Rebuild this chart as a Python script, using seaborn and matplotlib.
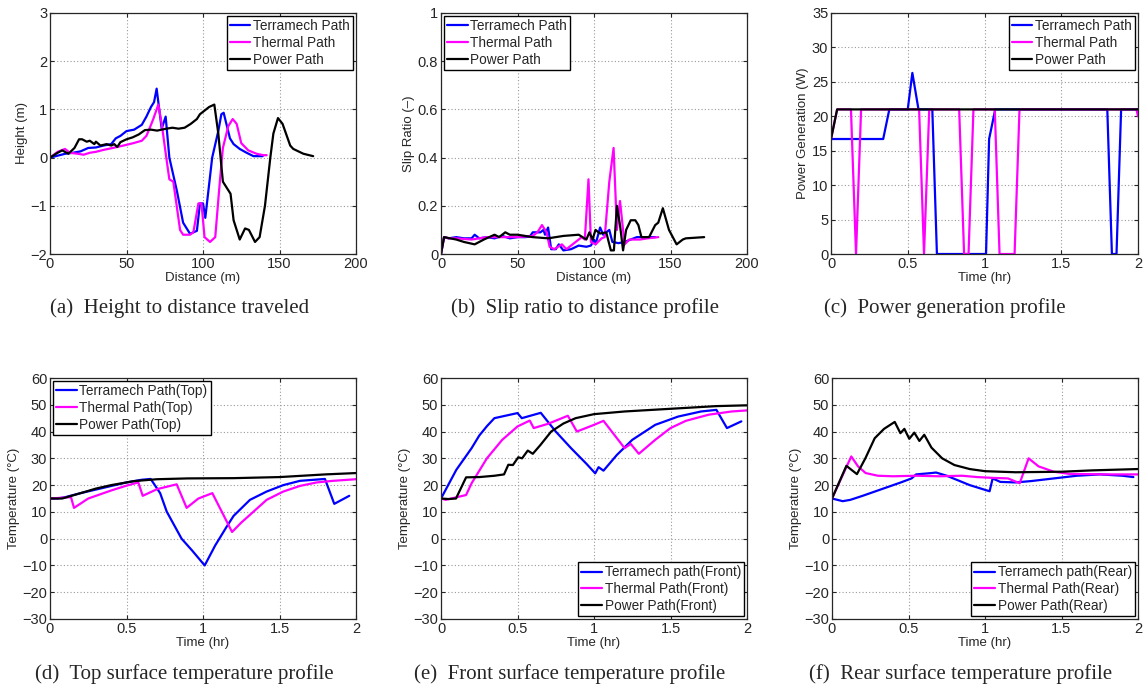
import matplotlib
matplotlib.use('Agg')
import pandas as pd
import seaborn as sns
import matplotlib.pyplot as plt

# ---------------- datos ----------------
# (a) altura vs distancia
ta_x = [0, 5, 10, 15, 20, 25, 30, 35, 40, 43, 46, 50, 55, 60, 63, 66, 68, 69.7, 71, 73, 75.6, 78, 83, 87, 91.5, 96, 98, 100, 101.5, 106, 110, 112, 113.5, 117.6, 120, 124, 128.5, 133, 139]
ta_y = [0, 0.04, 0.08, 0.1, 0.13, 0.2, 0.21, 0.25, 0.28, 0.4, 0.45, 0.55, 0.58, 0.68, 0.85, 1.05, 1.15, 1.43, 1.1, 0.6, 0.85, 0.0, -0.7, -1.35, -1.58, -1.52, -0.95, -0.95, -1.25, 0.0, 0.55, 0.9, 0.93, 0.4, 0.28, 0.18, 0.1, 0.03, 0.03]
ha_x = [0, 5, 9.8, 13, 18, 22, 26, 30, 35, 41, 48, 54.5, 60, 63, 65, 67.5, 70.8, 73, 76, 78, 80.6, 85, 87, 91.5, 93.7, 97, 99, 101, 104.6, 108, 111, 113, 116.5, 119.4, 122, 125, 129.6, 135, 139.4, 141.6]
ha_y = [0, 0.12, 0.18, 0.1, 0.08, 0.06, 0.1, 0.12, 0.16, 0.2, 0.25, 0.3, 0.35, 0.45, 0.6, 0.8, 1.1, 0.7, 0.0, -0.45, -0.5, -1.5, -1.6, -1.6, -1.55, -0.95, -0.95, -1.65, -1.75, -1.65, -0.5, 0.2, 0.65, 0.8, 0.7, 0.3, 0.15, 0.08, 0.05, 0.05]
pa_x = [0, 5, 8, 12, 16, 19, 21, 24, 26, 29, 30, 33, 37, 40, 42, 44, 46, 50, 54, 58, 62, 66, 70, 76, 80, 84, 88, 92, 96, 98, 100, 104, 107.4, 110, 113, 116, 118, 120, 124, 127.5, 130, 134, 137, 140.5, 144, 146, 149, 152, 157, 159, 165.6, 172]
pa_y = [0, 0.1, 0.15, 0.08, 0.2, 0.38, 0.38, 0.33, 0.35, 0.28, 0.33, 0.25, 0.28, 0.25, 0.28, 0.22, 0.32, 0.38, 0.42, 0.48, 0.57, 0.58, 0.56, 0.6, 0.62, 0.6, 0.62, 0.7, 0.8, 0.9, 0.95, 1.05, 1.1, 0.5, -0.5, -0.65, -0.75, -1.3, -1.7, -1.47, -1.5, -1.75, -1.65, -1.0, 0.0, 0.5, 0.82, 0.7, 0.25, 0.18, 0.08, 0.03]

# (b) slip ratio vs distancia
tb_x = [0, 2, 5, 10, 15, 20, 22, 25, 30, 35, 40, 45, 50, 55, 58, 60, 63, 65, 67, 68, 70, 72, 75, 77, 80, 85, 90, 95, 98, 100, 101, 104, 106, 110, 112, 116, 120, 128, 135, 140]
tb_y = [0, 0.07, 0.065, 0.07, 0.065, 0.065, 0.08, 0.065, 0.07, 0.065, 0.075, 0.065, 0.07, 0.07, 0.072, 0.09, 0.09, 0.09, 0.1, 0.08, 0.11, 0.02, 0.02, 0.04, 0.015, 0.02, 0.035, 0.03, 0.035, 0.06, 0.04, 0.11, 0.08, 0.1, 0.05, 0.045, 0.05, 0.07, 0.07, 0.07]
hb_x = [0, 2, 5, 10, 20, 30, 40, 50, 60, 63, 66, 69, 71, 74, 79, 82, 88, 92, 94, 96.4, 98, 101, 105, 107, 110, 112.8, 115, 117, 120, 123, 130, 135, 142]
hb_y = [0, 0.07, 0.065, 0.065, 0.06, 0.07, 0.07, 0.07, 0.075, 0.09, 0.12, 0.09, 0.03, 0.02, 0.04, 0.02, 0.05, 0.07, 0.06, 0.31, 0.05, 0.04, 0.065, 0.07, 0.3, 0.44, 0.1, 0.22, 0.04, 0.06, 0.06, 0.065, 0.07]
pb_x = [0, 2, 10, 15, 22, 28, 35, 38, 42, 45, 50, 60, 70, 80, 90, 95, 97, 99, 101, 104, 108, 111, 113, 115, 117, 119, 121, 124, 127, 129, 131, 136, 140, 142, 145, 149, 154, 158, 160, 172]
pb_y = [0, 0.07, 0.06, 0.05, 0.04, 0.06, 0.08, 0.07, 0.09, 0.08, 0.08, 0.07, 0.065, 0.075, 0.08, 0.06, 0.09, 0.06, 0.1, 0.085, 0.09, 0.015, 0.015, 0.2, 0.12, 0.015, 0.1, 0.14, 0.14, 0.12, 0.07, 0.07, 0.12, 0.13, 0.19, 0.1, 0.04, 0.06, 0.065, 0.07]

# (c) generacion de potencia vs tiempo
tc_x = [0, 0.34, 0.38, 0.5, 0.53, 0.57, 0.66, 0.69, 1.01, 1.03, 1.07, 1.8, 1.83, 1.86, 1.89, 2.0]
tc_y = [16.7, 16.7, 21, 21, 26.3, 21, 21, 0, 0, 16.7, 21, 21, 0, 0, 21, 21]
hc_x = [0, 0.04, 0.13, 0.163, 0.196, 0.574, 0.606, 0.64, 0.835, 0.867, 0.896, 0.928, 1.067, 1.098, 1.196, 1.228, 1.99, 2.0]
hc_y = [16.7, 21, 21, 0, 21, 21, 0, 21, 21, 0, 0, 21, 21, 0, 0, 21, 21, 20]
pc_x = [0, 0.04, 2.0]
pc_y = [16.7, 21, 21]

# (d) temperatura superior
td_x = [0, 0.05, 0.1, 0.2, 0.35, 0.5, 0.6, 0.658, 0.72, 0.763, 0.86, 0.93, 1.011, 1.08, 1.155, 1.2, 1.307, 1.416, 1.525, 1.634, 1.797, 1.858, 1.956]
td_y = [15, 15, 15.5, 17, 19, 21, 22, 22.3, 17, 10.1, 0, -4.5, -10, -2.5, 4.5, 8.5, 14.5, 17.6, 20, 21.6, 22.3, 13, 16]
hd_x = [0, 0.137, 0.157, 0.25, 0.4, 0.5, 0.577, 0.606, 0.7, 0.828, 0.893, 0.97, 1.061, 1.19, 1.25, 1.307, 1.416, 1.525, 1.634, 1.743, 1.85, 2.0]
hd_y = [15, 15.5, 11.5, 15, 18, 19.8, 21, 16, 18.5, 20.3, 11.5, 15, 17, 2.5, 6, 8.9, 14.5, 17.6, 19.7, 21, 21.6, 22.2]
pd_x = [0, 0.08, 0.2, 0.3, 0.4, 0.55, 0.7, 0.9, 1.2, 1.5, 1.8, 2.0]
pd_y = [15, 15, 17, 18.7, 20, 21.5, 22.2, 22.5, 22.6, 23, 24, 24.5]

# (e) temperatura frontal
te_x = [0, 0.1, 0.2, 0.25, 0.3, 0.349, 0.5, 0.528, 0.652, 0.75, 0.85, 0.95, 1.008, 1.03, 1.062, 1.15, 1.25, 1.4, 1.55, 1.7, 1.8, 1.869, 1.963]
te_y = [15, 25.7, 33.8, 38.5, 42, 45, 46.9, 45, 47, 40, 33.8, 28, 24.4, 26.7, 25.4, 31.3, 36.9, 42.5, 45.6, 47.5, 48.1, 41.3, 43.8]
he_x = [0, 0.03, 0.164, 0.2, 0.3, 0.4, 0.5, 0.58, 0.606, 0.7, 0.829, 0.888, 1.0, 1.062, 1.2, 1.24, 1.293, 1.4, 1.5, 1.6, 1.75, 1.9, 2.0]
he_y = [15, 14.5, 16.3, 20.7, 30, 36.9, 41.9, 44.1, 41.3, 42.9, 45.9, 40, 42.5, 44, 33.8, 35.4, 31.7, 36.9, 41.3, 44, 46.3, 47.5, 47.9]
pe_x = [0, 0.05, 0.098, 0.164, 0.25, 0.35, 0.412, 0.44, 0.47, 0.505, 0.53, 0.567, 0.6, 0.65, 0.72, 0.8, 0.88, 1.0, 1.2, 1.5, 1.8, 2.0]
pe_y = [15, 14.8, 15, 22.9, 23, 23.5, 24, 27.6, 27.5, 30.4, 30, 32.9, 31.7, 35, 40, 43, 45, 46.5, 47.5, 48.5, 49.5, 49.8]

# (f) temperatura trasera
tf_x = [0, 0.07, 0.12, 0.2, 0.35, 0.45, 0.52, 0.55, 0.65, 0.68, 0.75, 0.9, 1.03, 1.05, 1.1, 1.2, 1.3, 1.45, 1.6, 1.75, 1.9, 1.97]
tf_y = [15, 14, 14.5, 16, 19, 21, 22.5, 24, 24.5, 24.7, 23.5, 20, 17.7, 22.5, 21.2, 21, 21.5, 22.5, 23.5, 24, 23.5, 23]
hf_x = [0, 0.08, 0.126, 0.17, 0.22, 0.3, 0.4, 0.55, 0.7, 0.85, 0.95, 1.05, 1.15, 1.227, 1.285, 1.35, 1.45, 1.55, 1.8, 2.0]
hf_y = [15, 25, 30.7, 27, 24.5, 23.5, 23.3, 23.5, 23.3, 23.5, 23, 22.7, 22.5, 20.7, 30, 27, 25, 24.2, 24, 24]
pf_x = [0, 0.094, 0.163, 0.218, 0.279, 0.34, 0.41, 0.447, 0.473, 0.505, 0.538, 0.571, 0.603, 0.65, 0.72, 0.8, 0.9, 1.0, 1.2, 1.5, 1.7, 2.0]
pf_y = [15, 27.2, 24.1, 30, 37.5, 41, 43.6, 39.4, 41, 37.3, 39.6, 36.5, 38.8, 34, 30, 27.5, 26, 25.2, 24.8, 25, 25.5, 26]

captions = ['(a)  Height to distance traveled', '(b)  Slip ratio to distance profile',
            '(c)  Power generation profile', '(d)  Top surface temperature profile',
            '(e)  Front surface temperature profile', '(f)  Rear surface temperature profile']

# ---------------- estilo ----------------
sns.set_style('white')
plt.rcParams['font.family'] = ['Liberation Sans', 'DejaVu Sans']
plt.rcParams['font.size'] = 9.5

W, H = 1146, 688
fig = plt.figure(figsize=(W / 100, H / 100), dpi=100)

colores = ['#0000ff', '#ff00ff', '#000000']


def ejes(left, top, right, bottom):
    return fig.add_axes([left / W, (H - bottom) / H, (right - left) / W, (bottom - top) / H])


def dibujar(ax, series, labels, xlim, ylim, xticks, yticks, xlabel, ylabel, loc):
    for (x, y), lab, c in zip(series, labels, colores):
        df = pd.DataFrame({'x': x, 'y': y})
        sns.lineplot(data=df, x='x', y='y', ax=ax, color=c, linewidth=1.6,
                     label=lab, sort=False, estimator=None)
    ax.set_xlim(xlim)
    ax.set_ylim(ylim)
    ax.set_xticks(xticks)
    ax.set_yticks(yticks)
    ax.set_xticklabels([('%g' % t).replace('-', '\u2212') for t in xticks])
    ax.set_yticklabels([('%g' % t).replace('-', '\u2212') for t in yticks])
    ax.grid(True, linestyle=(0, (1, 2)), color='0.6', linewidth=0.8)
    ax.tick_params(direction='in', length=3, width=0.8, pad=2, labelsize=10.5,
                   top=True, right=True, bottom=True, left=True)
    for s in ax.spines.values():
        s.set_color('0.15')
        s.set_linewidth(0.9)
    ax.set_xlabel(xlabel, fontsize=9.5, labelpad=1)
    ax.set_ylabel(ylabel, fontsize=9.5, labelpad=2)
    leg = ax.legend(loc=loc, fontsize=9.8, frameon=True, fancybox=False, framealpha=1,
                    edgecolor='black', handlelength=1.5, handletextpad=0.2,
                    labelspacing=0.2, borderpad=0.25, borderaxespad=0.2)
    leg.get_frame().set_linewidth(1.0)


ax_a = ejes(50, 13, 356, 254)
dibujar(ax_a, [(ta_x, ta_y), (ha_x, ha_y), (pa_x, pa_y)],
        ['Terramech Path', 'Thermal Path', 'Power Path'],
        (0, 200), (-2, 3), [0, 50, 100, 150, 200], [-2, -1, 0, 1, 2, 3],
        'Distance (m)', 'Height (m)', 'upper right')

ax_b = ejes(441, 13, 747, 254)
dibujar(ax_b, [(tb_x, tb_y), (hb_x, hb_y), (pb_x, pb_y)],
        ['Terramech Path', 'Thermal Path', 'Power Path'],
        (0, 200), (0, 1), [0, 50, 100, 150, 200], [0, 0.2, 0.4, 0.6, 0.8, 1],
        'Distance (m)', 'Slip Ratio (\u2013)', 'upper left')

ax_c = ejes(831, 13, 1138, 254)
dibujar(ax_c, [(tc_x, tc_y), (hc_x, hc_y), (pc_x, pc_y)],
        ['Terramech Path', 'Thermal Path', 'Power Path'],
        (0, 2), (0, 35), [0, 0.5, 1, 1.5, 2], [0, 5, 10, 15, 20, 25, 30, 35],
        'Time (hr)', 'Power Generation (W)', 'upper right')

temp_ticks = [-30, -20, -10, 0, 10, 20, 30, 40, 50, 60]
ax_d = ejes(50, 378, 356, 619)
dibujar(ax_d, [(td_x, td_y), (hd_x, hd_y), (pd_x, pd_y)],
        ['Terramech Path(Top)', 'Thermal Path(Top)', 'Power Path(Top)'],
        (0, 2), (-30, 60), [0, 0.5, 1, 1.5, 2], temp_ticks,
        'Time (hr)', 'Temperature (\u00b0C)', 'upper left')

ax_e = ejes(441, 378, 747, 619)
dibujar(ax_e, [(te_x, te_y), (he_x, he_y), (pe_x, pe_y)],
        ['Terramech path(Front)', 'Thermal Path(Front)', 'Power Path(Front)'],
        (0, 2), (-30, 60), [0, 0.5, 1, 1.5, 2], temp_ticks,
        'Time (hr)', 'Temperature (\u00b0C)', 'lower right')

ax_f = ejes(832, 378, 1138, 619)
dibujar(ax_f, [(tf_x, tf_y), (hf_x, hf_y), (pf_x, pf_y)],
        ['Terramech path(Rear)', 'Thermal Path(Rear)', 'Power Path(Rear)'],
        (0, 2), (-30, 60), [0, 0.5, 1, 1.5, 2], temp_ticks,
        'Time (hr)', 'Temperature (\u00b0C)', 'lower right')

# leyendas de subfiguras (estilo LaTeX)
cap_pos = [(180, 308), (585, 308), (945, 308), (184, 674), (570, 674), (961, 674)]
for txt, (cx, cy) in zip(captions, cap_pos):
    fig.text(cx / W, 1 - cy / H, txt, ha='center', va='center',
             fontsize=15, family=['Liberation Serif', 'DejaVu Serif'])

fig.savefig('out.png', dpi=100, facecolor='white')
